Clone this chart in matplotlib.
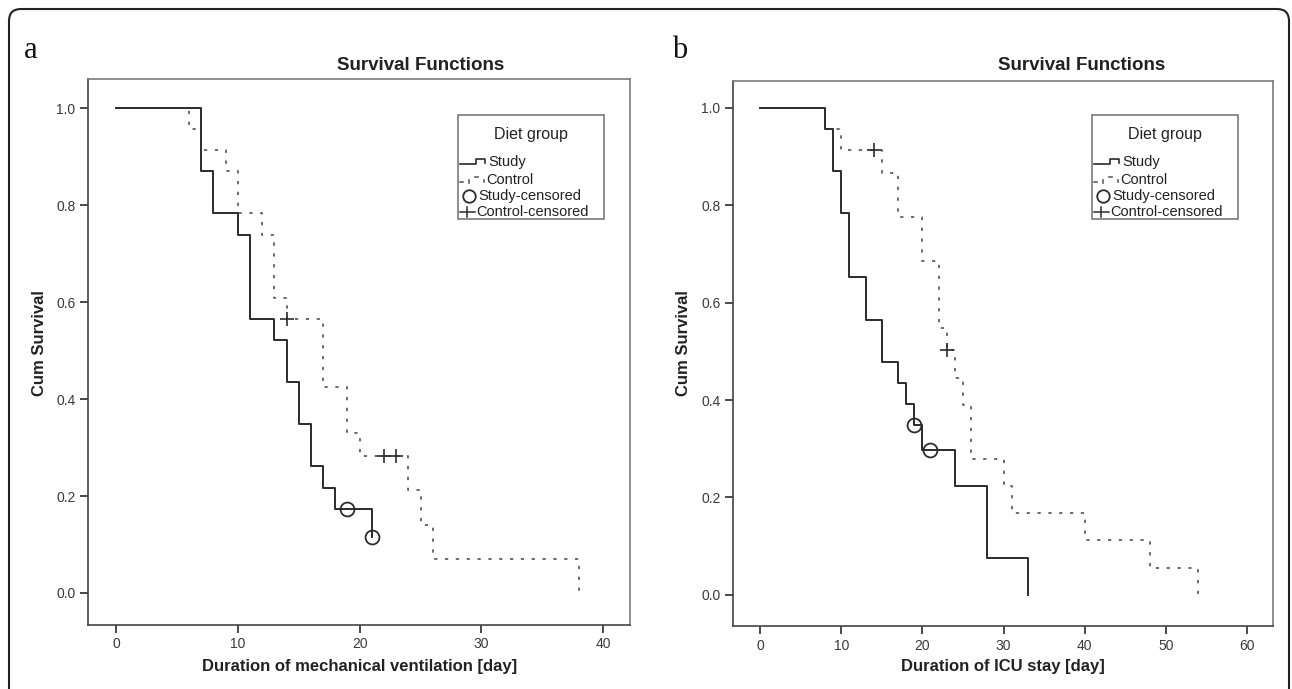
import matplotlib
matplotlib.use('Agg')
import matplotlib.pyplot as plt
from matplotlib.patches import FancyBboxPatch, Rectangle

W, H = 1292, 689
plt.rcParams['font.family'] = ['Liberation Sans', 'DejaVu Sans']

# ---------------- data ----------------
# Panel a: duration of mechanical ventilation
a_study_t = [0, 7, 8, 10, 11, 13, 14, 15, 16, 17, 18, 21]
a_study_s = [1.0, 0.870, 0.783, 0.739, 0.565, 0.522, 0.435, 0.348, 0.261, 0.217, 0.174, 0.116]
a_study_cens_t = [19, 21]
a_study_cens_s = [0.174, 0.116]
a_ctrl_t = [0, 6, 7, 9, 10, 12, 13, 14, 17, 19, 20, 24, 25, 26, 38]
a_ctrl_s = [1.0, 0.957, 0.913, 0.870, 0.783, 0.739, 0.609, 0.565, 0.424, 0.330, 0.283, 0.212, 0.141, 0.071, 0.0]
a_ctrl_cens_t = [14, 22, 23]
a_ctrl_cens_s = [0.565, 0.283, 0.283]

# Panel b: duration of ICU stay
b_study_t = [0, 8, 9, 10, 11, 13, 15, 17, 18, 19, 20, 24, 28, 33]
b_study_s = [1.0, 0.957, 0.870, 0.783, 0.652, 0.565, 0.478, 0.435, 0.391, 0.348, 0.298, 0.224, 0.075, 0.0]
b_study_cens_t = [19, 21]
b_study_cens_s = [0.348, 0.298]
b_ctrl_t = [0, 8, 10, 15, 17, 20, 22, 23, 24, 25, 26, 30, 31, 40, 48, 54]
b_ctrl_s = [1.0, 0.957, 0.913, 0.867, 0.776, 0.685, 0.548, 0.502, 0.446, 0.390, 0.279, 0.223, 0.167, 0.112, 0.056, 0.0]
b_ctrl_cens_t = [14, 23]
b_ctrl_cens_s = [0.913, 0.502]

a_xticks = [0, 10, 20, 30, 40]
b_xticks = [0, 10, 20, 30, 40, 50, 60]
yticks = [0.0, 0.2, 0.4, 0.6, 0.8, 1.0]

title = "Survival Functions"
ylabel = "Cum Survival"
a_xlabel = "Duration of mechanical ventilation [day]"
b_xlabel = "Duration of ICU stay [day]"
legend_title = "Diet group"
legend_labels = ["Study", "Control", "Study-censored", "Control-censored"]

# ---------------- styling ----------------
DARK = '#2b2b2b'
GRAY = '#606060'
SPINE = '#7a7a7a'

fig = plt.figure(figsize=(W / 100, H / 100), dpi=100)
fig.patch.set_facecolor('white')


def px_axes(l, t, r, b, **kw):
    return fig.add_axes([l / W, 1 - b / H, (r - l) / W, (b - t) / H], **kw)


def fx(x):
    return x / W


def fy(y):
    return 1 - y / H


def panel(ax, st, ss, sct, scs, ct, cs, cct, ccs, xlim, ylim, xticks):
    ax.step(st, ss, where='post', color=DARK, lw=1.4, zorder=3)
    ax.step(ct, cs, where='post', color=GRAY, lw=1.3, dashes=(1.8, 4.2), zorder=2)
    ax.plot(sct, scs, linestyle='none', marker='o', ms=10, mfc='none',
            mec=DARK, mew=1.3, zorder=4)
    ax.plot(cct, ccs, linestyle='none', marker='+', ms=10, mec=DARK, mew=1.2, zorder=4)
    ax.set_xlim(*xlim)
    ax.set_ylim(*ylim)
    ax.set_xticks(xticks)
    ax.set_xticklabels([str(v) for v in xticks])
    ax.set_yticks(yticks)
    ax.set_yticklabels(['%.1f' % v for v in yticks])
    ax.tick_params(direction='out', length=6, width=1.2, color=DARK,
                   labelsize=10, labelcolor='#3a3a3a', pad=3)
    ax.tick_params(axis='x', pad=3)
    for side in ['left', 'bottom']:
        ax.spines[side].set_color('#444444')
        ax.spines[side].set_linewidth(1.2)
    for side in ['top', 'right']:
        ax.spines[side].set_color(SPINE)
        ax.spines[side].set_linewidth(1.2)


ax_a = px_axes(88, 79, 630, 625)
panel(ax_a, a_study_t, a_study_s, a_study_cens_t, a_study_cens_s,
      a_ctrl_t, a_ctrl_s, a_ctrl_cens_t, a_ctrl_cens_s,
      (-2.3, 42.2), (-0.066, 1.060), a_xticks)

ax_b = px_axes(733, 81, 1273, 626)
panel(ax_b, b_study_t, b_study_s, b_study_cens_t, b_study_cens_s,
      b_ctrl_t, b_ctrl_s, b_ctrl_cens_t, b_ctrl_cens_s,
      (-3.33, 63.2), (-0.064, 1.055), b_xticks)

# titles / labels
for cx, lab_x, xl, ycx, letter, lx in [(421, 360, a_xlabel, 40, 'a', 24),
                                       (1082, 1003, b_xlabel, 684, 'b', 672)]:
    fig.text(fx(cx), fy(66), title, ha='center', va='center',
             fontsize=13.5, fontweight='bold', color='#222222')
    fig.text(fx(lab_x), fy(667), xl, ha='center', va='center',
             fontsize=12, fontweight='bold', color='#222222')
    fig.text(fx(ycx), fy(343), ylabel, ha='center', va='center', rotation=90,
             fontsize=12, fontweight='bold', color='#222222')
    fig.text(fx(lx), fy(58), letter, ha='left', va='baseline',
             fontsize=22, family=['Liberation Serif', 'DejaVu Serif'], color='#111111')

# overlay axes in pixel coordinates for frame and legends
ov = fig.add_axes([0, 0, 1, 1], zorder=10)
ov.set_xlim(0, W)
ov.set_ylim(H, 0)
ov.axis('off')
ov.patch.set_alpha(0)

frame = FancyBboxPatch((9, 9), 1280, 720, boxstyle='round,pad=0,rounding_size=12',
                       fill=False, ec='#222222', lw=1.5, clip_on=False)
ov.add_patch(frame)


def legend(bl, bt, bw=146, bh=104):
    ov.add_patch(Rectangle((bl, bt), bw, bh, fc='white', ec=SPINE, lw=1.2))
    ov.text(bl + bw / 2, bt + 20, legend_title, ha='center', va='center',
            fontsize=11.5, color='#222222')
    ys = [bt + 47, bt + 65, bt + 81, bt + 97]
    # Study handle (step)
    y = ys[0]
    ov.plot([bl + 2, bl + 18, bl + 18, bl + 27, bl + 27],
            [y + 2, y + 2, y - 3, y - 3, y + 1], color=DARK, lw=1.2)
    ov.text(bl + 30, y, legend_labels[0], ha='left', va='center', fontsize=10.5, color='#222222')
    # Control handle (dotted step)
    y = ys[1]
    for xs, yy in [((bl + 2, bl + 5), (y + 2, y + 2)), ((bl + 11, bl + 11), (y, y + 3)),
                   ((bl + 17, bl + 20), (y - 3, y - 3)), ((bl + 26, bl + 26), (y, y + 2))]:
        ov.plot(xs, yy, color=GRAY, lw=1.2)
    ov.text(bl + 28, y, legend_labels[1], ha='left', va='center', fontsize=10.5, color='#222222')
    # Study-censored
    y = ys[2]
    ov.plot([bl + 11], [y], marker='o', ms=9, mfc='none', mec=DARK, mew=1.3)
    ov.text(bl + 20, y, legend_labels[2], ha='left', va='center', fontsize=10.5, color='#222222')
    # Control-censored
    y = ys[3]
    ov.plot([bl + 2, bl + 17], [y, y], color=DARK, lw=1.1)
    ov.plot([bl + 9, bl + 9], [y - 5, y + 5], color=DARK, lw=1.1)
    ov.text(bl + 18, y, legend_labels[3], ha='left', va='center', fontsize=10.5, color='#222222')


legend(458, 115)
legend(1092, 115)

fig.savefig('out.png', dpi=100, facecolor='white')
